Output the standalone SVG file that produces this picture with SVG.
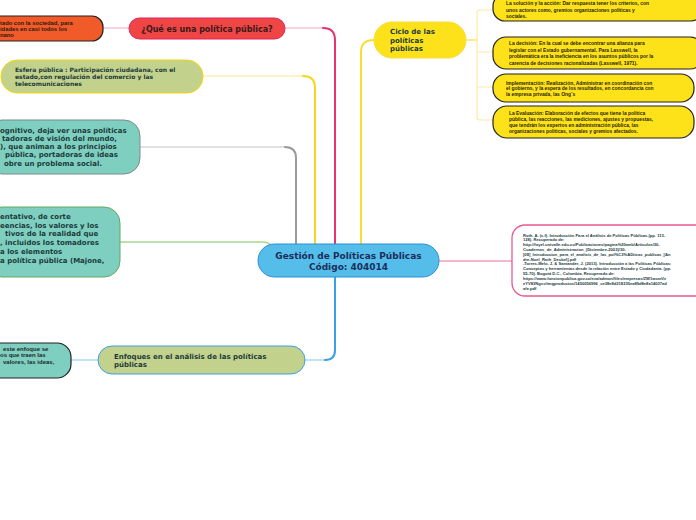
<svg xmlns="http://www.w3.org/2000/svg" width="696" height="520" viewBox="0 0 696 520">
<style>
.b{font-family:"DejaVu Sans",Verdana,sans-serif;font-weight:bold}
.s{font-family:"Liberation Sans",Arial,sans-serif;font-weight:bold}
.dk{fill:#1c3b3b}
.teal{fill:#7ecfc0}
.yb{fill:#fde21a;stroke:#222;stroke-width:1.2}
.c{fill:none;stroke-linecap:round}
</style>
<rect width="696" height="520" fill="#ffffff"/>
<g id="connectors" class="c">
  <path d="M103,28 H129" stroke="#f7c3d3" stroke-width="1.5"/>
  <path d="M323,28 H285" stroke="#f7c3d3" stroke-width="1.5"/>
  <path d="M335,244 V40 Q335,28 323,28" stroke="#e8336e" stroke-width="2"/>
  <path d="M303,76 H203" stroke="#fdf0b3" stroke-width="1.5"/>
  <path d="M315,244 V88 Q315,76 303,76" stroke="#f7d51d" stroke-width="2"/>
  <path d="M285,147 H140" stroke="#c4c4c4" stroke-width="1.2"/>
  <path d="M296,244 V158 Q296,147 285,147" stroke="#9a9a9a" stroke-width="2"/>
  <path d="M120,242 H262 Q269,242 272,246" stroke="#a8d890" stroke-width="1.3"/>
  <path d="M325,360 H305" stroke="#acdaf6" stroke-width="1.5"/>
  <path d="M335,277 V350 Q335,360 325,360" stroke="#3aa0e8" stroke-width="2"/>
  <path d="M71,360 H98" stroke="#acdaf6" stroke-width="1.3"/>
  <path d="M361,244 V52 Q361,40 374,40" stroke="#fbdc35" stroke-width="2"/>
  <path d="M466,40 H477" stroke="#fde567" stroke-width="1.5"/>
  <path d="M493,10 H480 Q477,10 477,13 V117 Q477,120 480,120 H493 M477,52 H493 M477,87 H493" stroke="#fdeaa3" stroke-width="1.2"/>
  <path d="M439,261 H512" stroke="#f2a0bf" stroke-width="1.3"/>
</g>
<g id="central">
  <rect x="258" y="244" width="181" height="33" rx="16.5" fill="#55bdea" stroke="#2d8fd5" stroke-width="1"/>
  <text class="b" font-size="9" fill="#1a2e5a" text-anchor="middle" x="348.5" y="258.5">Gestión de Políticas Públicas</text>
  <text class="b" font-size="9" fill="#1a2e5a" text-anchor="middle" x="348.5" y="270">Código: 404014</text>
</g>
<g id="que-es">
  <rect x="129" y="18" width="156" height="21" rx="10.5" fill="#ef4545" stroke="#e0245e" stroke-width="1"/>
  <text class="b" font-size="8" fill="#3b1a1a" text-anchor="middle" x="207" y="32">¿Qué es una política pública?</text>
</g>
<g id="orange">
  <rect x="-12" y="16" width="115" height="25" rx="11" fill="#f15a29" stroke="#222" stroke-width="1.2"/>
  <text class="s" font-size="5.8" fill="#2a1a10"><tspan x="0" y="24.5">tado con la sociedad, para</tspan><tspan x="0" y="30.8">idades en casi todos los</tspan><tspan x="0" y="37">nano</tspan></text>
</g>
<g id="esfera">
  <rect x="1" y="60" width="202" height="33" rx="16" fill="#c2d18c" stroke="#f6d70a" stroke-width="1"/>
  <text class="b dk" font-size="6"><tspan x="15" y="71.5">Esfera pública :  Participación ciudadana, con el</tspan><tspan x="15" y="78.8">estado,con regulación del comercio y las</tspan><tspan x="15" y="86">telecomunicaciones</tspan></text>
</g>
<g id="cognitivo">
  <rect x="-14" y="120" width="154" height="54" rx="16" class="teal" stroke="#7a8c88" stroke-width="1"/>
  <text class="b dk" font-size="7"><tspan x="0" y="132.5">ognitivo, deja ver unas políticas</tspan><tspan x="2" y="140.7">tadoras de visión del mundo,</tspan><tspan x="0" y="148.9">), que animan a los principios</tspan><tspan x="5" y="157.1">pública, portadoras de ideas</tspan><tspan x="4" y="165.5">obre un problema social.</tspan></text>
</g>
<g id="argumentativo">
  <rect x="-14" y="207" width="134" height="70" rx="16" class="teal" stroke="#62a862" stroke-width="1"/>
  <text class="b dk" font-size="7"><tspan x="0" y="219">entativo, de corte</tspan><tspan x="0" y="227.7">eencias, los valores y los</tspan><tspan x="5" y="236.4">tivos de la realidad que</tspan><tspan x="0" y="245.1">, incluidos los tomadores</tspan><tspan x="0" y="253.8">a los elementos</tspan><tspan x="0" y="262.5">a política pública (Majone,</tspan></text>
</g>
<g id="enfoques">
  <rect x="98" y="346" width="207" height="28" rx="14" fill="#c2d18c" stroke="#3aa0e8" stroke-width="1"/>
  <text class="b dk" font-size="7"><tspan x="114" y="358.5">Enfoques en el análisis de las políticas</tspan><tspan x="114" y="366.5">públicas</tspan></text>
</g>
<g id="enfoque-detalle">
  <rect x="-14" y="343" width="85" height="35" rx="14" class="teal" stroke="#222" stroke-width="1.2"/>
  <text class="s" font-size="6" fill="#1c2a2a"><tspan x="3" y="350.5">este enfoque se</tspan><tspan x="0" y="357.3">os que traen las</tspan><tspan x="3" y="364">valores, las ideas,</tspan></text>
</g>
<g id="ciclo">
  <rect x="374" y="22" width="92" height="36" rx="18" fill="#fde21b" stroke="#f7dd3e" stroke-width="1"/>
  <text class="b dk" font-size="7"><tspan x="390" y="34">Ciclo de las</tspan><tspan x="390" y="42.5">políticas</tspan><tspan x="390" y="51">públicas</tspan></text>
</g>
<g id="solucion">
  <rect x="493" y="-6" width="210" height="27" rx="12" class="yb"/>
  <text class="s" font-size="4.9" fill="#2a2410"><tspan x="506" y="5">La solución y la acción: Dar respuesta tener los criterios, con</tspan><tspan x="506" y="11.5">unos actores como, gremios organizaciones políticas y</tspan><tspan x="506" y="17.8">sociales.</tspan></text>
</g>
<g id="decision">
  <rect x="493" y="37" width="210" height="32" rx="13" class="yb"/>
  <text class="s" font-size="4.9" fill="#2a2410"><tspan x="509" y="45">La decisión: En la cual se debe encontrar una alianza para</tspan><tspan x="509" y="51.7">legislar con el Estado gubernamental.  Para Lasswell, la</tspan><tspan x="509" y="58.4">problemática era la ineficiencia en los asuntos públicos por la</tspan><tspan x="509" y="65">carencia de decisiones racionalizadas (Lasswell, 1971).</tspan></text>
</g>
<g id="implementacion">
  <rect x="493" y="74" width="201" height="28" rx="13" class="yb"/>
  <text class="s" font-size="4.9" fill="#2a2410"><tspan x="506" y="84.5">Implementación: Realización, Administrar en coordinación con</tspan><tspan x="506" y="90.3">el gobierno, y la espera de los resultados, en concordancia con</tspan><tspan x="506" y="96.2">la empresa privada, las Ong´s</tspan></text>
</g>
<g id="evaluacion">
  <rect x="493" y="106" width="201" height="32" rx="14" class="yb"/>
  <text class="s" font-size="4.9" fill="#2a2410"><tspan x="509" y="115">La Evaluación: Elaboración de efectos que tiene la política</tspan><tspan x="509" y="121">pública, las reacciones, las mediciones, ajustes y propuestas,</tspan><tspan x="509" y="127">que tendrán los expertos en administración pública, las</tspan><tspan x="509" y="133">organizaciones políticas, sociales y gremios afectados.</tspan></text>
</g>
<g id="referencias">
  <rect x="512" y="225" width="200" height="71" rx="13" fill="#ffffff" stroke="#e85a8f" stroke-width="1.3"/>
  <text class="s" font-size="4.1" fill="#1c3b3b"><tspan x="523" y="236.5">Roth, A. (s.f). Introducción Para el Análisis de Políticas Públicas.(pp. 113-</tspan><tspan x="523" y="241.3">128). Recuperado de:</tspan><tspan x="523" y="246.1">http://foyel.univalle.edu.co/Publicaciones/pagina%20web/Articulos/30-</tspan><tspan x="523" y="251">Cuadernos_de_Administracion_(Diciembre-2003)/30-</tspan><tspan x="523" y="255.8">[08]_Introduccion_para_el_analisis_de_las_pol%C3%ADticas_publicas_[An</tspan><tspan x="523" y="260.6">dre-Noel_Roth_Deubel].pdf</tspan><tspan x="523" y="265.4">-Torres-Melo, J. &amp; Santander, J. (2013). Introducción a las Políticas Públicas:</tspan><tspan x="523" y="270.2">Conceptos y herramientas desde la relación entre Estado y Ciudadanía. (pp.</tspan><tspan x="523" y="275">55-70). Bogotá D.C., Colombia. Recuperado de:</tspan><tspan x="523" y="279.9">https://www.funcionpublica.gov.co/eva/admon/files/empresas/ZW1wcmVz</tspan><tspan x="523" y="284.7">eYV83Ng==/imgproductos/1450056996_ce38e8d218235ea89d8e8a14037ad</tspan><tspan x="523" y="289.5">afe.pdf</tspan></text>
</g>
</svg>
